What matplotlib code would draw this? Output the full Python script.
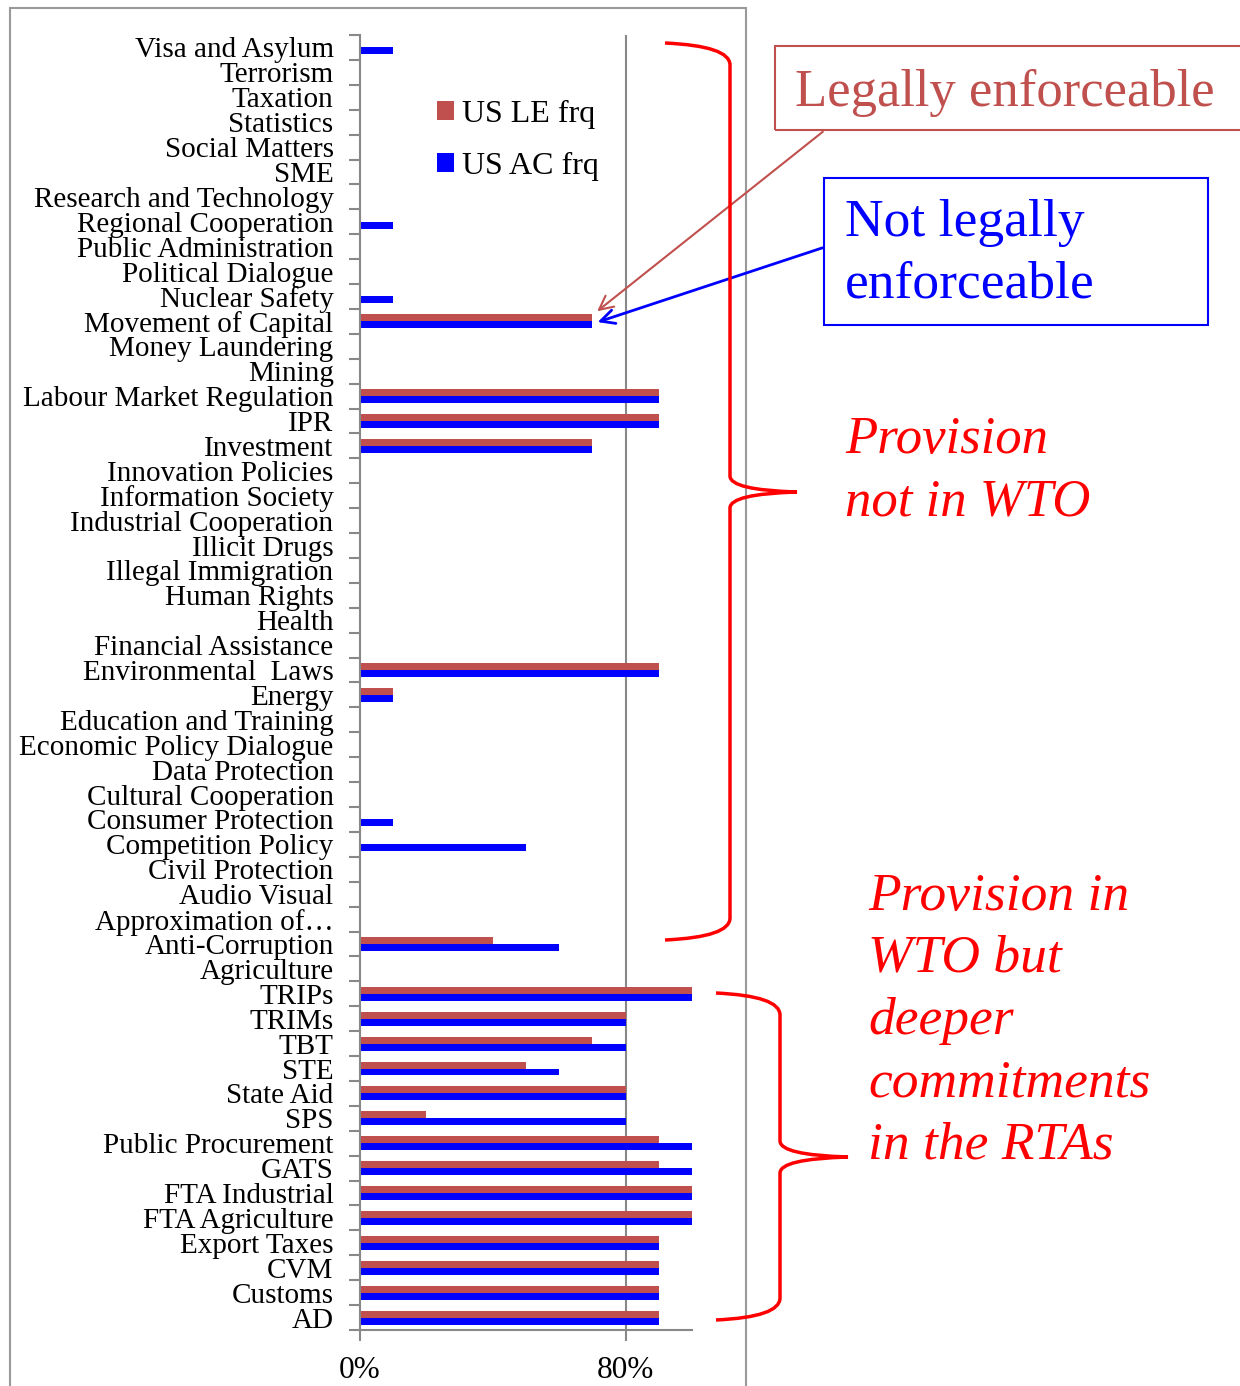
import matplotlib.pyplot as plt
import matplotlib.patches as mpatches
from matplotlib.path import Path
import numpy as np

# categories listed bottom -> top
categories = ["AD", "Customs", "CVM", "Export Taxes", "FTA Agriculture", "FTA Industrial",
              "GATS", "Public Procurement", "SPS", "State Aid", "STE", "TBT", "TRIMs", "TRIPs",
              "Agriculture", "Anti-Corruption", "Approximation of\u2026", "Audio Visual",
              "Civil Protection", "Competition Policy", "Consumer Protection",
              "Cultural Cooperation", "Data Protection", "Economic Policy Dialogue",
              "Education and Training", "Energy", "Environmental  Laws", "Financial Assistance",
              "Health", "Human Rights", "Illegal Immigration", "Illicit Drugs",
              "Industrial Cooperation", "Information Society", "Innovation Policies",
              "Investment", "IPR", "Labour Market Regulation", "Mining", "Money Laundering",
              "Movement of Capital", "Nuclear Safety", "Political Dialogue",
              "Public Administration", "Regional Cooperation", "Research and Technology",
              "SME", "Social Matters", "Statistics", "Taxation", "Terrorism", "Visa and Asylum"]

us_le = [90, 90, 90, 90, 100, 100, 90, 90, 20, 80, 50, 70, 80, 100,
         0, 40, 0, 0, 0, 0, 0, 0, 0, 0, 0, 10, 90, 0, 0, 0, 0, 0, 0, 0, 0,
         70, 90, 90, 0, 0, 70, 0, 0, 0, 0, 0, 0, 0, 0, 0, 0, 0]
us_ac = [90, 90, 90, 90, 100, 100, 100, 100, 80, 80, 60, 80, 80, 100,
         0, 60, 0, 0, 0, 50, 10, 0, 0, 0, 0, 10, 90, 0, 0, 0, 0, 0, 0, 0, 0,
         70, 90, 90, 0, 0, 70, 10, 0, 0, 10, 0, 0, 0, 0, 0, 0, 10]

W, H = 1240, 1386
plt.rcParams['font.family'] = ['Liberation Serif', 'DejaVu Serif']

fig = plt.figure(figsize=(W / 100, H / 100), dpi=100)


def px(x, y):
    return (x / W, 1 - y / H)


ax = fig.add_axes([360 / W, 1 - 1330 / H, (692 - 360) / W, (1330 - 35) / H])

y = np.arange(len(categories))
le = np.array(us_le) / 100
ac = np.array(us_ac) / 100
ax.barh(y + 0.14, le, height=0.28, color='#C0504D', label='US LE frq')
ax.barh(y - 0.14, ac, height=0.28, color='#0000FF', label='US AC frq')

ax.set_xlim(0, 1.0)
ax.set_ylim(-0.5, len(categories) - 0.5)
ax.set_xticks([0, 0.8])
ax.set_xticklabels(['0%', '80%'], fontsize=22.5)
ax.set_yticks(y)
ax.set_yticklabels(categories, fontsize=21)
ax.set_yticks(np.arange(-0.5, len(categories), 1), minor=True)
ax.tick_params(axis='y', which='major', length=0, pad=19)
ax.tick_params(axis='y', which='minor', length=8, color='#888888', width=1.5)
ax.tick_params(axis='x', length=8, color='#888888', width=1.5, pad=11)
ax.axvline(0.8, color='#888888', lw=1.5, zorder=0)
for s in ['top', 'right']:
    ax.spines[s].set_visible(False)
for s in ['left', 'bottom']:
    ax.spines[s].set_color('#888888')
    ax.spines[s].set_linewidth(1.5)

h, l = ax.get_legend_handles_labels()
ax.legend(h, l, loc='upper left', bbox_to_anchor=px(408, 71), bbox_transform=fig.transFigure,
          frameon=False, fontsize=23, handlelength=0.55, handleheight=0.55,
          handletextpad=0.25, labelspacing=0.72)

# outer chart frame
fig.patches.append(mpatches.Rectangle(px(10, 1390), (746 - 10) / W, (1390 - 8) / H,
                                      transform=fig.transFigure, fill=False,
                                      ec='#999999', lw=1.5))

# boxes
fig.patches.append(mpatches.Rectangle(px(775, 130), (1245 - 775) / W, 84 / H,
                                      transform=fig.transFigure, fill=False,
                                      ec='#C0504D', lw=1.5))
fig.text(*px(795, 93), 'Legally enforceable', color='#C0504D', fontsize=38,
         va='center', ha='left')
fig.patches.append(mpatches.Rectangle(px(824, 325), (1208 - 824) / W, (325 - 178) / H,
                                      transform=fig.transFigure, fill=False,
                                      ec='#0000FF', lw=1.5))
fig.text(*px(845, 254), 'Not legally\nenforceable', color='#0000FF', fontsize=38.5,
         va='center', ha='left', linespacing=1.36)

# arrows
fig.patches.append(mpatches.FancyArrowPatch(px(825, 130), px(595, 313),
                                            transform=fig.transFigure, arrowstyle='->',
                                            mutation_scale=25, color='#C0504D', lw=1.5))
fig.patches.append(mpatches.FancyArrowPatch(px(825, 247), px(595, 323),
                                            transform=fig.transFigure, arrowstyle='->',
                                            mutation_scale=25, color='#0000FF', lw=2))

# braces


def brace(x0, xs, xt, ytop, ymid, ybot):
    verts = [px(x0, ytop), px(xs, ytop + 3), px(xs, ytop + 22),
             px(xs, ymid - 16), px(xs, ymid - 2), px(xt, ymid),
             px(xs, ymid + 2), px(xs, ymid + 16),
             px(xs, ybot - 22), px(xs, ybot - 3), px(x0, ybot)]
    codes = [Path.MOVETO, Path.CURVE3, Path.CURVE3, Path.LINETO, Path.CURVE3, Path.CURVE3,
             Path.CURVE3, Path.CURVE3, Path.LINETO, Path.CURVE3, Path.CURVE3]
    fig.patches.append(mpatches.PathPatch(Path(verts, codes), transform=fig.transFigure,
                                          fill=False, ec='#FF0000', lw=2.5))


brace(665, 730, 797, 43, 492, 940)
brace(716, 780, 848, 993, 1157, 1320)

fig.text(*px(845, 471), 'Provision\nnot in WTO', color='#FF0000', fontsize=38,
         style='italic', va='center', ha='left', linespacing=1.38)
fig.text(*px(868, 1021), 'Provision in\nWTO but\ndeeper\ncommitments\nin the RTAs',
         color='#FF0000', fontsize=38.5, style='italic', va='center', ha='left',
         linespacing=1.38)

fig.savefig('out.png', dpi=100)
